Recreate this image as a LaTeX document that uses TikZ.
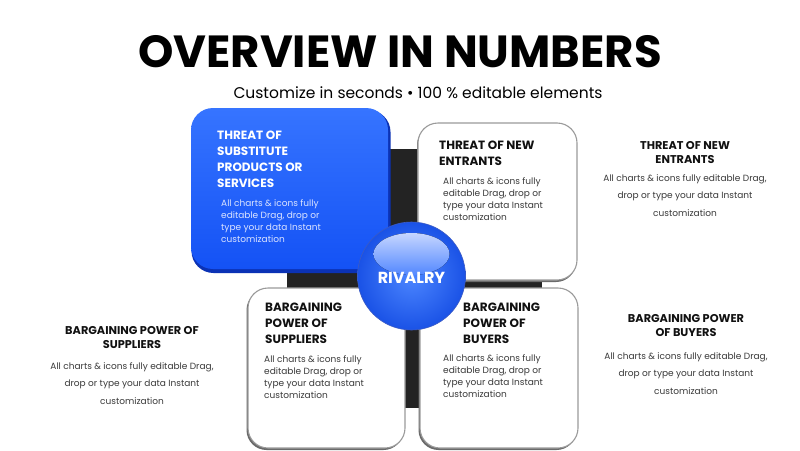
\documentclass[tikz,border=0pt]{standalone}
\usepackage{fontspec}
\setmainfont{Poppins}
\definecolor{inkblack}{HTML}{111111}
\definecolor{bodygray}{HTML}{3A3A3A}
\definecolor{boxrim}{HTML}{9A9A9A}
\definecolor{rimshade}{HTML}{6A6A6A}
\definecolor{coreblack}{HTML}{232323}
\definecolor{bluetop}{HTML}{3674FF}
\definecolor{bluebot}{HTML}{1452F5}
\definecolor{bluerim}{HTML}{0B32B5}
\definecolor{paleblue}{HTML}{DCE4FF}
\definecolor{ballin}{HTML}{4C86FF}
\definecolor{ballout}{HTML}{1A52E6}
\definecolor{glosstop}{HTML}{C6D6FF}
\definecolor{glossbot}{HTML}{5287FF}
\tikzset{
  card/.style={draw=boxrim, line width=1.1pt, fill=white, rounded corners=20pt, inner sep=0pt},
  cardshade/.style={fill=rimshade, rounded corners=20pt, inner sep=0pt},
  headline/.style={font=\bfseries\fontsize{12}{16}\selectfont, text=inkblack, align=left, anchor=north west, inner sep=0pt},
  blurb/.style={font=\fontsize{9}{12}\selectfont, text=bodygray, align=left, anchor=north west, inner sep=0pt},
  sidehead/.style={font=\bfseries\fontsize{11.3}{14.3}\selectfont, text=inkblack, align=center, anchor=north, inner sep=0pt},
  sideblurb/.style={font=\fontsize{9}{17.7}\selectfont, text=bodygray, align=center, anchor=north, inner sep=0pt},
}
\begin{document}
\begin{tikzpicture}[x=1pt,y=-1pt]
	\useasboundingbox [fill=white] (0,0) rectangle (800,450);
	%title
	\node (title) at (400,52) {\bfseries\fontsize{45}{48}\selectfont OVERVIEW IN NUMBERS};
	\node (subtitle) at (418,93) {\fontsize{15.5}{18}\selectfont Customize in seconds \textbullet{} 100 \% editable elements};
	%dark core behind the cards
	\fill [coreblack] (287,149) rectangle (542,408);
	%blue card
	\node [fill=bluerim, rounded corners=22pt, inner sep=0pt, minimum width=199pt, minimum height=163pt] (bluerim) at (291,191.5) {};
	\node [top color=bluetop, bottom color=bluebot, rounded corners=22pt, inner sep=0pt, minimum width=197pt, minimum height=161pt] (bluecard) at (289.5,188.5) {};
	%white cards
	\node [cardshade, minimum width=159pt, minimum height=157pt] at (496.5,203.5) {};
	\node [card, minimum width=159pt, minimum height=157pt] (entrants) at (497.5,201.5) {};
	\node [cardshade, minimum width=157pt, minimum height=160pt] at (325,370) {};
	\node [card, minimum width=157pt, minimum height=160pt] (suppliers) at (326.5,368) {};
	\node [cardshade, minimum width=158pt, minimum height=160pt] at (497.5,370) {};
	\node [card, minimum width=158pt, minimum height=160pt] (buyers) at (499,368) {};
	%card texts
	\node [headline, text=white] (subst) at (217,131) {THREAT OF\\SUBSTITUTE\\PRODUCTS OR\\SERVICES};
	\node [blurb, text=paleblue] (substtxt) at (221,199) {All charts \& icons fully\\editable Drag, drop or\\type your data Instant\\customization};
	\node [headline] (entr) at (439,141) {THREAT OF NEW\\ENTRANTS};
	\node [blurb] (entrtxt) at (443,177) {All charts \& icons fully\\editable Drag, drop or\\type your data Instant\\customization};
	\node [headline] (supp) at (265,303) {BARGAINING\\POWER OF\\SUPPLIERS};
	\node [blurb] (supptxt) at (264,355) {All charts \& icons fully\\editable Drag, drop or\\type your data Instant\\customization};
	\node [headline] (buy) at (463,303) {BARGAINING\\POWER OF\\BUYERS};
	\node [blurb] (buytxt) at (443,354) {All charts \& icons fully\\editable Drag, drop or\\type your data Instant\\customization};
	%rivalry ball
	\node [circle, draw=bluerim!80, line width=0.6pt, inner color=ballin, outer color=ballout, minimum size=108pt, inner sep=0pt] (rivalry) at (411.5,276) {};
	\fill [top color=glosstop, bottom color=glossbot] ([yshift=22pt]rivalry.center) ellipse (38 and 21);
	\node [text=white, font=\bfseries\fontsize{16}{18}\selectfont] (rivalrylabel) at ([yshift=-2pt]rivalry.center) {RIVALRY};
	%side notes
	\node [sidehead] (sideentr) at (685,141) {THREAT OF NEW\\ENTRANTS};
	\node [sideblurb] (sideentrtxt) at (685,174) {All charts \& icons fully editable Drag,\\drop or type your data Instant\\customization};
	\node [sidehead] (sidesupp) at (132,326) {BARGAINING POWER OF\\SUPPLIERS};
	\node [sideblurb] (sidesupptxt) at (132,362) {All charts \& icons fully editable Drag,\\drop or type your data Instant\\customization};
	\node [sidehead] (sidebuy) at (686,314) {BARGAINING POWER\\OF BUYERS};
	\node [sideblurb] (sidebuytxt) at (686,352) {All charts \& icons fully editable Drag,\\drop or type your data Instant\\customization};
\end{tikzpicture}
\end{document}
